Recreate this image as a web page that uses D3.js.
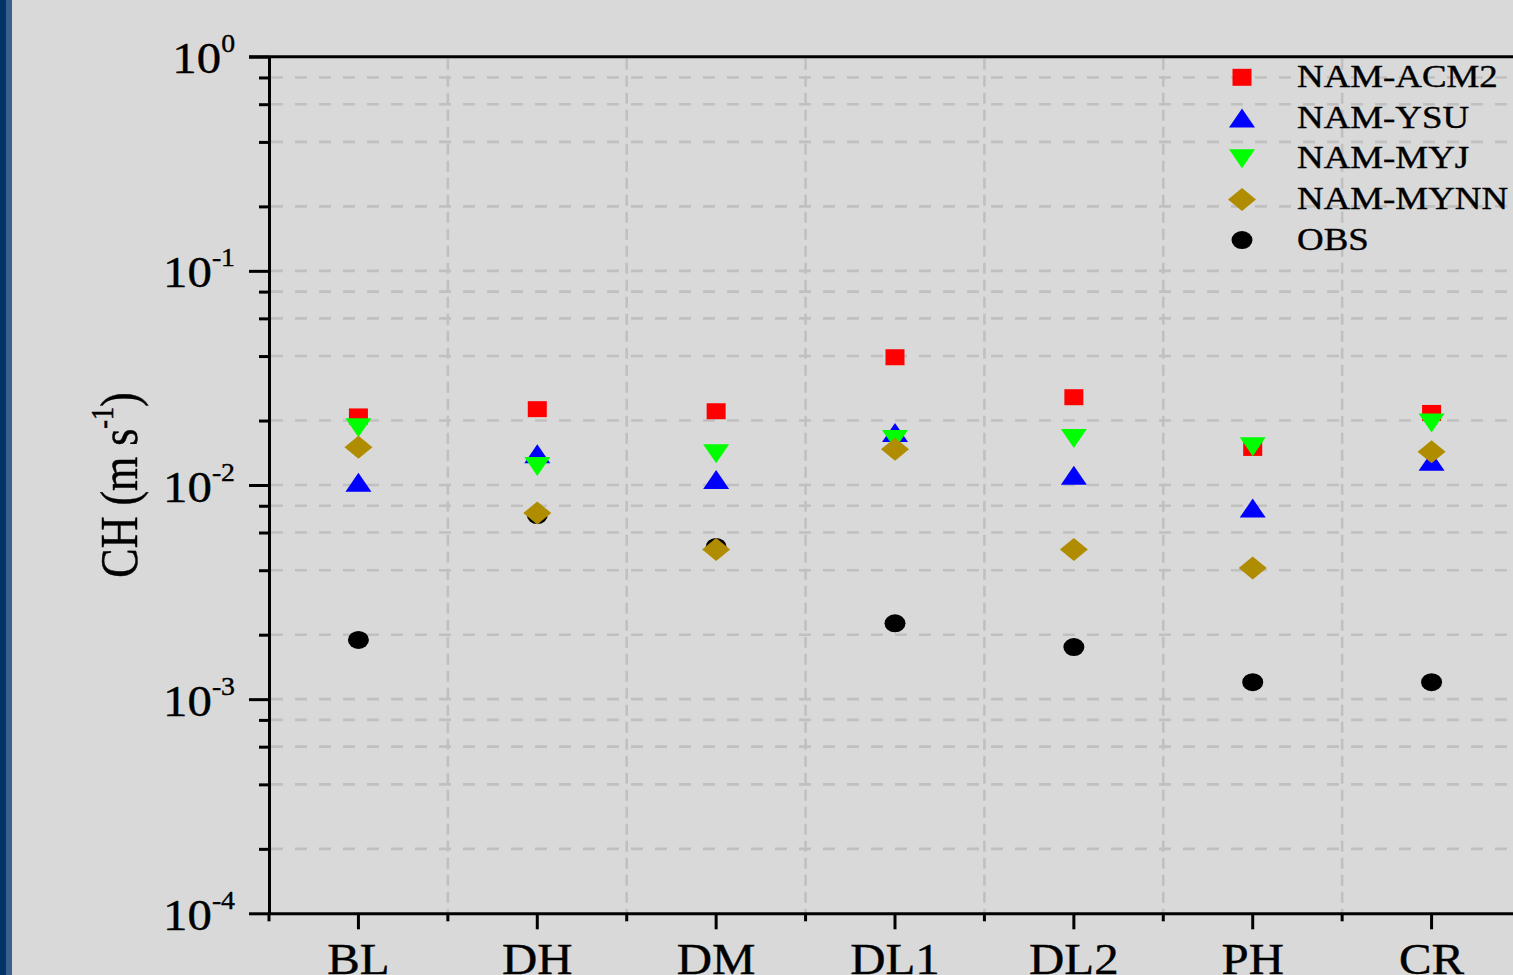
<!DOCTYPE html>
<html>
<head>
<meta charset="utf-8">
<script src="https://cdn.jsdelivr.net/npm/d3@7"></script>
<style>
  html, body { margin: 0; padding: 0; background: #d9d9d9; overflow: hidden; }
  svg { display: block; }
  text { font-family: "Liberation Serif", "Times New Roman", serif; fill: #000; stroke: #000; stroke-width: 0.4px; }
</style>
</head>
<body>
<div id="chart"></div>
<script>
// Data
var categories = ["BL", "DH", "DM", "DL1", "DL2", "PH", "CR"];
var acm2 = [0.0209, 0.0226, 0.0221, 0.0395, 0.0257, 0.0149, 0.0217];
var ysu  = [0.0103, 0.0140, 0.0106, 0.0176, 0.0111, 0.0078, 0.0129];
var myj  = [0.0185, 0.0122, 0.0140, 0.0163, 0.0165, 0.0151, 0.0195];
var mynn = [0.0150, 0.0074, 0.0050, 0.0147, 0.0050, 0.0041, 0.0143];
var obs  = [0.00189, 0.00724, 0.00514, 0.00226, 0.00175, 0.00120, 0.00120];
var seriesNames = ["NAM-ACM2", "NAM-YSU", "NAM-MYJ", "NAM-MYNN", "OBS"];
var majorTicks = [1, 0.1, 0.01, 0.001, 0.0001];
var majorExp = ["0", "-1", "-2", "-3", "-4"];

var svgWidth = 1513;
var svgHeight = 975;
var plot = { left: 269, top: 56.7, bottom: 913.3, right: 1521 };

var svg = d3.select("#chart").append("svg")
  .attr("width", svgWidth)
  .attr("height", svgHeight);

svg.append("rect").attr("width", svgWidth).attr("height", svgHeight).attr("fill", "#d9d9d9");
// dark strip at the left edge
svg.append("rect").attr("x", 0).attr("y", 0).attr("width", 6).attr("height", svgHeight).attr("fill", "#023468");
svg.append("rect").attr("x", 6).attr("y", 0).attr("width", 6).attr("height", svgHeight).attr("fill", "#3a5f8f");

var x = d3.scaleBand().domain(categories).range([plot.left, plot.right]);
var y = d3.scaleLog().domain([0.0001, 1]).range([plot.bottom, plot.top]);
var cx = function(c) { return x(c) + x.bandwidth() / 2; };

// minor tick values 2,4,6,8 x 10^n
var minorTicks = [];
[-4, -3, -2, -1].forEach(function(e) {
  [2, 4, 6, 8].forEach(function(m) { minorTicks.push(m * Math.pow(10, e)); });
});

// grid
var grid = svg.append("g").attr("stroke", "#c0c0c0").attr("stroke-width", 2.6);
grid.selectAll(".hg").data(majorTicks.slice(1, 4).concat(minorTicks)).enter().append("line")
  .attr("x1", plot.left + 2).attr("x2", svgWidth)
  .attr("y1", d => y(d)).attr("y2", d => y(d))
  .attr("stroke-dasharray", "12,12");
grid.selectAll(".vg").data(categories.slice(1)).enter().append("line")
  .attr("x1", d => x(d)).attr("x2", d => x(d))
  .attr("y1", plot.top + 2).attr("y2", plot.bottom)
  .attr("stroke-dasharray", "11,6");

// axes
var leftMajor = svg.append("g")
  .attr("transform", `translate(${plot.left},0)`)
  .call(d3.axisLeft(y).tickValues(majorTicks).tickSize(20).tickSizeOuter(0).tickFormat(""));
var leftMinor = svg.append("g")
  .attr("transform", `translate(${plot.left},0)`)
  .call(d3.axisLeft(y).tickValues(minorTicks).tickSize(10).tickSizeOuter(0).tickFormat(""));
var bottomAxis = svg.append("g")
  .attr("transform", `translate(0,${plot.bottom})`)
  .call(d3.axisBottom(x).tickSize(16).tickSizeOuter(0).tickFormat(""));
svg.selectAll(".domain, .tick line").attr("stroke", "#000").attr("stroke-width", 3);
leftMinor.select(".domain").remove();

// x minor ticks at category boundaries
svg.append("g").selectAll("line").data(categories).enter().append("line")
  .attr("x1", d => x(d)).attr("x2", d => x(d))
  .attr("y1", plot.bottom).attr("y2", plot.bottom + 8)
  .attr("stroke", "#000").attr("stroke-width", 3);

// top frame line
svg.append("line")
  .attr("x1", plot.left - 20).attr("x2", svgWidth)
  .attr("y1", y(1)).attr("y2", y(1))
  .attr("stroke", "#000").attr("stroke-width", 3);

// y tick labels
majorTicks.forEach(function(v, i) {
  var t = svg.append("text")
    .attr("transform", `translate(235,${y(v) + 16.5}) scale(1.11,1)`)
    .attr("text-anchor", "end")
    .style("font-size", "44px");
  t.append("tspan").text("10");
  t.append("tspan").attr("dy", -21).style("font-size", "25px").text(majorExp[i]);
});

// x tick labels
svg.append("g").selectAll("text").data(categories).enter().append("text")
  .attr("transform", d => `translate(${cx(d)},974) scale(1.11,1)`)
  .attr("text-anchor", "middle")
  .style("font-size", "44px")
  .text(d => d);

// y axis title
var title = svg.append("text")
  .attr("transform", "translate(137,485) rotate(-90) scale(1,1.2)")
  .attr("text-anchor", "middle")
  .style("font-size", "44px");
title.append("tspan").text("CH (m s");
title.append("tspan").attr("dy", -20).style("font-size", "26px").text("-1");
title.append("tspan").attr("dy", 20).text(")");

// marker shapes (w, h are full width/height)
function markerPath(kind, w, h) {
  var a = w / 2, b = h / 2;
  if (kind === "square") return `M${-a},${-b}H${a}V${b}H${-a}Z`;
  if (kind === "up") return `M0,${-b}L${a},${b}L${-a},${b}Z`;
  if (kind === "down") return `M${-a},${-b}L${a},${-b}L0,${b}Z`;
  if (kind === "diamond") return `M0,${-b}L${a},0L0,${b}L${-a},0Z`;
  return `M${-a},0A${a},${b} 0 1,0 ${a},0A${a},${b} 0 1,0 ${-a},0Z`;
}

var seriesList = [
  { name: seriesNames[4], values: obs,  kind: "circle",  color: "#000000", w: 21, h: 18 },
  { name: seriesNames[0], values: acm2, kind: "square",  color: "#ff0000", w: 19, h: 16 },
  { name: seriesNames[1], values: ysu,  kind: "up",      color: "#0000ff", w: 26, h: 19 },
  { name: seriesNames[2], values: myj,  kind: "down",    color: "#00ff00", w: 26, h: 19 },
  { name: seriesNames[3], values: mynn, kind: "diamond", color: "#b08d00", w: 28, h: 23 }
];

seriesList.forEach(function(s) {
  svg.append("g").selectAll("path").data(s.values).enter().append("path")
    .attr("transform", (d, i) => `translate(${cx(categories[i])},${y(d)})`)
    .attr("d", markerPath(s.kind, s.w, s.h))
    .attr("fill", s.color);
});

// legend
var legendOrder = [1, 2, 3, 4, 0];
var legend = svg.append("g");
legendOrder.forEach(function(k, i) {
  var s = seriesList[k];
  var ly = 77.3 + i * 40.7;
  legend.append("path")
    .attr("transform", `translate(1242,${ly})`)
    .attr("d", markerPath(s.kind, s.w, s.kind === "square" ? 17 : s.h))
    .attr("fill", s.color);
  legend.append("text")
    .attr("transform", `translate(1297,${ly + 9.5}) scale(1.19,1)`)
    .style("font-size", "31px")
    .text(s.name);
});
</script>
</body>
</html>
